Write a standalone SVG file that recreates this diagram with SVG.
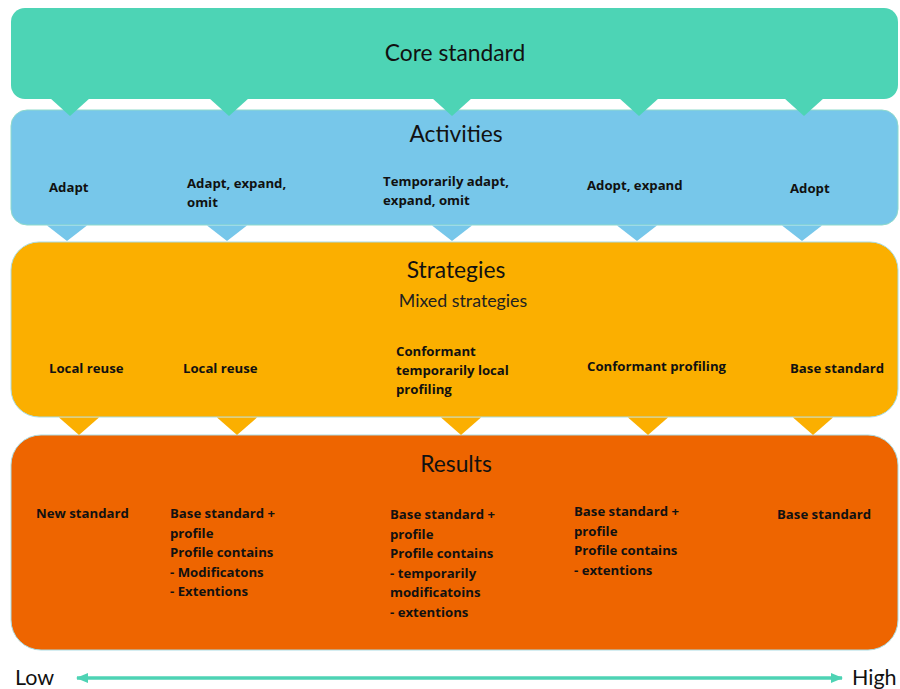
<svg xmlns="http://www.w3.org/2000/svg" width="900" height="689" viewBox="0 0 900 689">
<defs>
<style>
.title{font-family:Lato,"Open Sans","Liberation Sans",sans-serif;font-size:22.8px;fill:#111;text-anchor:middle}
.sub{font-family:Lato,"Open Sans","Liberation Sans",sans-serif;font-size:17.8px;fill:#222;text-anchor:middle}
.lbl{font-family:"Open Sans","Noto Sans","Liberation Sans",sans-serif;font-size:13.2px;font-weight:bold;fill:#111}
.end{font-family:Lato,"Open Sans","Liberation Sans",sans-serif;font-size:21.5px;fill:#111}
.core{fill:#4DD4B5}
.act{fill:#77C7EA}
.str{fill:#FBAF00}
.res{fill:#EE6500}
</style>
<marker id="ah" viewBox="0 0 12 10" refX="11" refY="5" markerWidth="12" markerHeight="10" markerUnits="userSpaceOnUse" orient="auto-start-reverse">
<path d="M0,0 L12,5 L0,10 z" fill="#4ED3B4"/>
</marker>
</defs>

<g id="results">
<rect class="res" x="11" y="435" width="887" height="215" rx="30" stroke="#A9DCE4" stroke-width="1"/>
<text class="title" x="456" y="472">Results</text>
<text class="lbl" x="36" y="518">New standard</text>
<text class="lbl" x="170" y="518">Base standard +<tspan x="170" dy="19.5">profile</tspan><tspan x="170" dy="19.5">Profile contains</tspan><tspan x="170" dy="19.5">- Modificatons</tspan><tspan x="170" dy="19.5">- Extentions</tspan></text>
<text class="lbl" x="390" y="519">Base standard +<tspan x="390" dy="19.5">profile</tspan><tspan x="390" dy="19.5">Profile contains</tspan><tspan x="390" dy="19.5">- temporarily</tspan><tspan x="390" dy="19.5">modificatoins</tspan><tspan x="390" dy="19.5">- extentions</tspan></text>
<text class="lbl" x="574" y="516">Base standard +<tspan x="574" dy="19.5">profile</tspan><tspan x="574" dy="19.5">Profile contains</tspan><tspan x="574" dy="19.5">- extentions</tspan></text>
<text class="lbl" x="777" y="519">Base standard</text>
</g>

<g id="strategies">
<rect class="str" x="11" y="242" width="887" height="175" rx="28" stroke="#A9DCE4" stroke-width="1"/>
<g class="str">
<polygon points="59,417.5 99,417.5 79,435"/>
<polygon points="217,417.5 257,417.5 237,435"/>
<polygon points="441,417.5 481,417.5 461,435"/>
<polygon points="628,417.5 668,417.5 648,435"/>
<polygon points="793,417.5 833,417.5 813,435"/>
</g>
<text class="title" x="456" y="278">Strategies</text>
<text class="sub" x="463" y="307">Mixed strategies</text>
<text class="lbl" x="49" y="373">Local reuse</text>
<text class="lbl" x="183" y="373">Local reuse</text>
<text class="lbl" x="396" y="356">Conformant<tspan x="396" dy="19">temporarily local</tspan><tspan x="396" dy="19">profiling</tspan></text>
<text class="lbl" x="587" y="371">Conformant profiling</text>
<text class="lbl" x="790" y="373">Base standard</text>
</g>

<g id="activities">
<rect class="act" x="11" y="110" width="887" height="115" rx="16" stroke="#8FDACB" stroke-width="1"/>
<g class="act">
<polygon points="47,225.5 87,225.5 67,241"/>
<polygon points="207,225.5 247,225.5 227,241"/>
<polygon points="432,225.5 472,225.5 452,241"/>
<polygon points="617,225.5 657,225.5 637,241"/>
<polygon points="782,225.5 822,225.5 802,241"/>
</g>
<text class="title" x="456" y="142">Activities</text>
<text class="lbl" x="49" y="192">Adapt</text>
<text class="lbl" x="187" y="188">Adapt, expand,<tspan x="187" dy="19">omit</tspan></text>
<text class="lbl" x="383" y="186">Temporarily adapt,<tspan x="383" dy="19">expand, omit</tspan></text>
<text class="lbl" x="587" y="190">Adopt, expand</text>
<text class="lbl" x="790" y="193">Adopt</text>
</g>

<g id="core">
<rect class="core" x="11" y="8" width="887" height="91" rx="14"/>
<g class="core">
<polygon points="50,98 90,98 70,116"/>
<polygon points="209,98 249,98 229,116"/>
<polygon points="432,98 472,98 452,116"/>
<polygon points="619,98 659,98 639,116"/>
<polygon points="784,98 824,98 804,116"/>
</g>
<text class="title" x="455" y="61">Core standard</text>
</g>

<g id="connectors">
<line x1="77" y1="678" x2="842" y2="678" stroke="#4ED3B4" stroke-width="3.5" marker-start="url(#ah)" marker-end="url(#ah)"/>
</g>
<text class="end" x="15" y="685">Low</text>
<text class="end" x="852" y="685">High</text>
</svg>
